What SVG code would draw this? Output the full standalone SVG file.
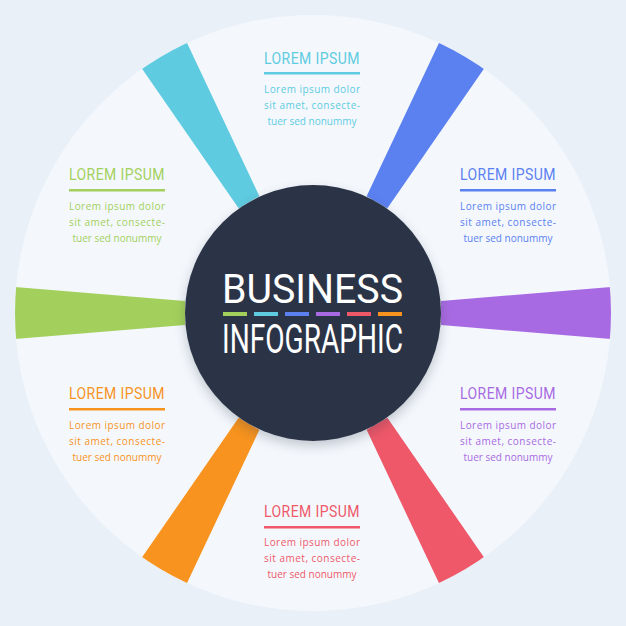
<svg xmlns="http://www.w3.org/2000/svg" width="626" height="626" viewBox="0 0 626 626">
<defs>
<clipPath id="disc"><circle cx="313" cy="313" r="298"/></clipPath>
<filter id="sh" x="-20%" y="-20%" width="140%" height="140%"><feGaussianBlur stdDeviation="6"/></filter>
<style>
.h{font-family:"Roboto","Liberation Sans",sans-serif;font-size:16px;text-anchor:middle;letter-spacing:0.5px}
.b{font-family:"Open Sans","Liberation Sans",sans-serif;font-size:10px}
.c{text-anchor:middle}
.t{font-family:"Roboto","Liberation Sans",sans-serif;font-size:40px;fill:#fff;font-weight:400}
</style>
</defs>
<rect width="626" height="626" fill="#e9f0f8"/>
<circle cx="313" cy="313" r="298" fill="#f4f8fd"/>
<g id="spokes" clip-path="url(#disc)">
<polygon points="238.61,208.15 259.39,196.15 181.38,31.04 134.62,58.04" fill="#5ecbe0"/>
<polygon points="366.61,196.15 387.39,208.15 491.38,58.04 444.62,31.04" fill="#5b80f0"/>
<polygon points="441,301 441,325 623,340 623,286" fill="#a86ae2"/>
<polygon points="366.61,429.85 387.39,417.85 491.38,567.96 444.62,594.96" fill="#ee5869"/>
<polygon points="238.61,417.85 259.39,429.85 181.38,594.96 134.62,567.96" fill="#f7931e"/>
<polygon points="185,301 185,325 3,340 3,286" fill="#a3d05c"/>
</g>
<g id="center">
<circle cx="313" cy="318" r="128" fill="#2b3447" opacity="0.25" filter="url(#sh)"/>
<circle cx="313" cy="313" r="128" fill="#2b3447"/>
<text class="t" x="222" y="303" textLength="181" lengthAdjust="spacingAndGlyphs">BUSINESS</text>
<text class="t" x="222" y="353" textLength="181" lengthAdjust="spacingAndGlyphs">INFOGRAPHIC</text>
<rect x="223" y="312" width="24" height="4" fill="#a3d05c"/>
<rect x="254" y="312" width="24" height="4" fill="#5ecbe0"/>
<rect x="285" y="312" width="24" height="4" fill="#5b80f0"/>
<rect x="316" y="312" width="24" height="4" fill="#a86ae2"/>
<rect x="347" y="312" width="24" height="4" fill="#ee5869"/>
<rect x="378" y="312" width="24" height="4" fill="#f7931e"/>
</g>
<g id="top" fill="#5ecbe0">
<text class="h" x="312" y="64" textLength="96" lengthAdjust="spacingAndGlyphs">LOREM IPSUM</text>
<rect x="264" y="72" width="96" height="2.5"/>
<text class="b" x="264" y="93" textLength="96">Lorem ipsum dolor</text>
<text class="b" x="264" y="109" textLength="96">sit amet, consecte-</text>
<text class="b c" x="312" y="125">tuer sed nonummy</text>
</g>
<g id="left-top" fill="#a3d05c">
<text class="h" x="117" y="180" textLength="96" lengthAdjust="spacingAndGlyphs">LOREM IPSUM</text>
<rect x="69" y="189" width="96" height="2.5"/>
<text class="b" x="69" y="210" textLength="96">Lorem ipsum dolor</text>
<text class="b" x="69" y="226" textLength="96">sit amet, consecte-</text>
<text class="b c" x="117" y="242">tuer sed nonummy</text>
</g>
<g id="right-top" fill="#5b80f0">
<text class="h" x="508" y="180" textLength="96" lengthAdjust="spacingAndGlyphs">LOREM IPSUM</text>
<rect x="460" y="189" width="96" height="2.5"/>
<text class="b" x="460" y="210" textLength="96">Lorem ipsum dolor</text>
<text class="b" x="460" y="226" textLength="96">sit amet, consecte-</text>
<text class="b c" x="508" y="242">tuer sed nonummy</text>
</g>
<g id="left-bottom" fill="#f7931e">
<text class="h" x="117" y="399" textLength="96" lengthAdjust="spacingAndGlyphs">LOREM IPSUM</text>
<rect x="69" y="408" width="96" height="2.5"/>
<text class="b" x="69" y="429" textLength="96">Lorem ipsum dolor</text>
<text class="b" x="69" y="445" textLength="96">sit amet, consecte-</text>
<text class="b c" x="117" y="461">tuer sed nonummy</text>
</g>
<g id="right-bottom" fill="#a86ae2">
<text class="h" x="508" y="399" textLength="96" lengthAdjust="spacingAndGlyphs">LOREM IPSUM</text>
<rect x="460" y="408" width="96" height="2.5"/>
<text class="b" x="460" y="429" textLength="96">Lorem ipsum dolor</text>
<text class="b" x="460" y="445" textLength="96">sit amet, consecte-</text>
<text class="b c" x="508" y="461">tuer sed nonummy</text>
</g>
<g id="bottom" fill="#ee5869">
<text class="h" x="312" y="517" textLength="96" lengthAdjust="spacingAndGlyphs">LOREM IPSUM</text>
<rect x="264" y="526" width="96" height="2.5"/>
<text class="b" x="264" y="546" textLength="96">Lorem ipsum dolor</text>
<text class="b" x="264" y="562" textLength="96">sit amet, consecte-</text>
<text class="b c" x="312" y="578">tuer sed nonummy</text>
</g>
</svg>
